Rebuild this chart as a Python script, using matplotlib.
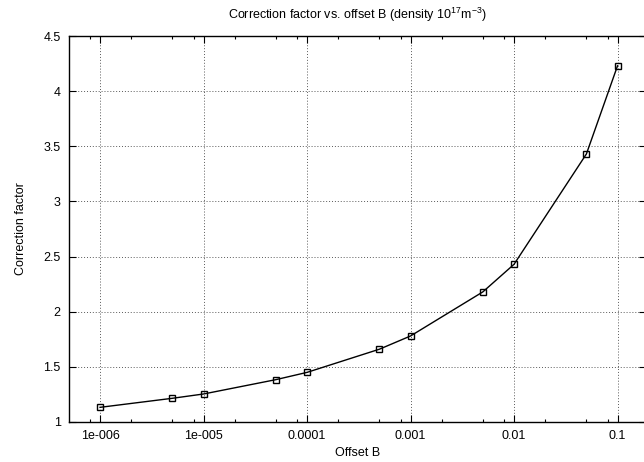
import matplotlib
matplotlib.use("Agg")
import matplotlib.pyplot as plt
from matplotlib.ticker import FixedLocator, FixedFormatter

plt.rcParams["font.family"] = ["Liberation Sans", "DejaVu Sans"]
plt.rcParams["mathtext.fontset"] = "custom"
plt.rcParams["mathtext.rm"] = "Liberation Sans"

# data
offsets = [1e-6, 5e-6, 1e-5, 5e-5, 1e-4, 5e-4, 1e-3, 5e-3, 1e-2, 5e-2, 1e-1]
factors = [1.133, 1.215, 1.254, 1.384, 1.45, 1.66, 1.78, 2.18, 2.43, 3.43, 4.23]

x_ticks = [1e-6, 1e-5, 1e-4, 1e-3, 1e-2, 1e-1]
x_labels = ["1e-006", "1e-005", "0.0001", "0.001", "0.01", "0.1"]
y_ticks = [1, 1.5, 2, 2.5, 3, 3.5, 4, 4.5]
y_labels = ["1", "1.5", "2", "2.5", "3", "3.5", "4", "4.5"]

fig = plt.figure(figsize=(6.44, 4.62), dpi=100)
ax = fig.add_axes([69 / 644, 1 - 422 / 462, 577 / 644, 386 / 462])

ax.plot(offsets, factors, "-s", color="black", lw=1.0, markersize=5,
        markerfacecolor="none", markeredgewidth=1.0, zorder=3)

ax.set_xscale("log")
ax.set_xlim(10 ** -6.3, 10 ** -0.725)
ax.set_ylim(1, 4.5)

ax.xaxis.set_major_locator(FixedLocator(x_ticks))
ax.xaxis.set_major_formatter(FixedFormatter(x_labels))
minor = [m * 10.0 ** e for e in range(-7, 0) for m in (2, 5, 8)]
ax.xaxis.set_minor_locator(FixedLocator(minor))
ax.xaxis.set_minor_formatter(FixedFormatter([""] * len(minor)))
ax.yaxis.set_major_locator(FixedLocator(y_ticks))
ax.yaxis.set_major_formatter(FixedFormatter(y_labels))

ax.tick_params(which="both", direction="in", top=True, right=True,
               labelsize=9, width=0.8)
ax.tick_params(which="major", length=5, pad=6)
ax.tick_params(which="minor", length=2.5)

ax.grid(True, which="major", color="0.35", linestyle=(0, (1, 2)), lw=0.7)
for s in ax.spines.values():
    s.set_linewidth(1.0)

ax.set_title(r"Correction factor vs. offset B (density 10$^{17}$m$^{-3}$)",
             fontsize=9, pad=12)
ax.set_xlabel("Offset B", fontsize=9, labelpad=3)
ax.set_ylabel("Correction factor", fontsize=9, labelpad=12)

fig.savefig("out.png", dpi=100)
